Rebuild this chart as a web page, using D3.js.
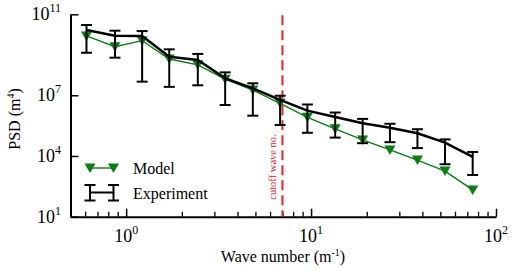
<!DOCTYPE html>
<html>
<head>
<meta charset="utf-8">
<script src="https://cdn.jsdelivr.net/npm/d3@7"></script>
<style>
  body { margin: 0; background: #fff; }
  text { font-family: "Liberation Serif", "Times New Roman", serif; }
</style>
</head>
<body>
<svg id="drawing_region"></svg>
<script>
// wave number (1/m)
const waveNumber = [0.61, 0.87, 1.22, 1.71, 2.44, 3.43, 4.84, 6.8, 9.55, 13.5, 19.0, 26.7, 37.6, 53.0, 74.8];
// experiment PSD and its error bars (m^4)
const expPsd = [1.66e10, 8.7e9, 8.5e9, 8.0e8, 5.5e8, 6.9e7, 2.2e7, 5.9e6, 1.74e6, 8.5e5, 4.1e5, 2.5e5, 1.32e5, 4.6e4, 9.1e3];
const expHigh = [2.95e10, 1.55e10, 1.48e10, 1.86e9, 1.1e9, 1.35e8, 3.9e7, 9.5e6, 3.5e6, 1.4e6, 6.8e5, 3.9e5, 2.1e5, 6.6e4, 1.58e4];
const expLow = [1.26e9, 7.2e8, 4.7e7, 2.6e7, 3.1e7, 3.3e6, 9.8e5, 3.4e5, 1.4e5, 8.1e4, 4.3e4, 4.8e4, 2.45e4, 3.9e3, 1.15e3];
// model PSD (m^4)
const modelPsd = [8.5e9, 2.5e9, 5.0e9, 6.2e8, 3.2e8, 6.2e7, 1.8e7, 4.0e6, 8.1e5, 2.2e5, 6.2e4, 2.0e4, 6.3e3, 1.8e3, 210];
const cutoffWave = 7.0;
// tick values
const yTicks = [1e11, 1e7, 1e4, 1e1];
const yTickExp = ["11", "7", "4", "1"];
const xMajor = [1, 10, 100];
const xMajorExp = ["0", "1", "2"];
const xMinor = [0.6, 0.7, 0.8, 0.9, 2, 3, 4, 5, 6, 7, 8, 9, 20, 30, 40, 50, 60, 70, 80, 90];

const W = 512, H = 270;
const plot = { left: 70.5, right: 496, top: 14.3, bottom: 216.7 };

const svg = d3.select('#drawing_region').attr('width', W).attr('height', H);

const x = d3.scaleLog().domain([0.5, 100]).range([plot.left, plot.right]);
const y = d3.scaleLog().domain([10, 1e11]).range([plot.bottom, plot.top]);

// axes
svg.append('g')
    .attr('transform', `translate(0,${plot.bottom})`)
    .call(d3.axisBottom(x).tickValues(xMinor).tickSize(-5).tickSizeOuter(0).tickFormat(''))
    .call(g => g.selectAll('.tick line').attr('stroke-width', 1.3))
    .call(g => g.select('.domain').remove());
svg.append('g')
    .attr('transform', `translate(0,${plot.bottom})`)
    .call(d3.axisBottom(x).tickValues(xMajor).tickSize(-8).tickSizeOuter(0).tickFormat(''))
    .call(g => g.selectAll('.tick line').attr('stroke-width', 1.5))
    .call(g => g.select('.domain').attr('stroke-width', 2));
svg.append('g')
    .attr('transform', `translate(${plot.left},0)`)
    .call(d3.axisLeft(y).tickValues(yTicks).tickSize(-8).tickSizeOuter(0).tickFormat(''))
    .call(g => g.selectAll('.tick line').attr('stroke-width', 1.5))
    .call(g => g.select('.domain').attr('stroke-width', 2));

// tick labels
const xl = svg.append('g').selectAll('text').data(xMajor).enter().append('text')
    .attr('x', d => x(d)).attr('y', 242)
    .attr('text-anchor', 'middle').attr('font-size', 18);
xl.append('tspan').text('10');
xl.append('tspan').attr('dy', -8).attr('font-size', 12).text((d, i) => xMajorExp[i]);

const yl = svg.append('g').selectAll('text').data(yTicks).enter().append('text')
    .attr('x', 61).attr('y', d => y(d) + 6)
    .attr('text-anchor', 'end').attr('font-size', 18);
yl.append('tspan').text('10');
yl.append('tspan').attr('dy', -8).attr('font-size', 12).text((d, i) => yTickExp[i]);

// axis titles
const xt = svg.append('text').attr('x', 283).attr('y', 262)
    .attr('text-anchor', 'middle').attr('font-size', 16);
xt.append('tspan').text('Wave number (m');
xt.append('tspan').attr('dy', -6).attr('font-size', 10).text('-1');
xt.append('tspan').attr('dy', 6).text(')');

const yt = svg.append('text')
    .attr('transform', 'translate(20,119) rotate(-90)')
    .attr('text-anchor', 'middle').attr('font-size', 16);
yt.append('tspan').text('PSD (m');
yt.append('tspan').attr('dy', -6).attr('font-size', 10).text('4');
yt.append('tspan').attr('dy', 6).text(')');

// cutoff line
svg.append('line')
    .attr('x1', x(cutoffWave)).attr('x2', x(cutoffWave))
    .attr('y1', plot.top + 1).attr('y2', plot.bottom)
    .attr('stroke', '#e8202a').attr('stroke-width', 2)
    .attr('stroke-dasharray', '10,5');
svg.append('text')
    .attr('transform', `translate(${x(cutoffWave) - 6},167) rotate(-90)`)
    .attr('text-anchor', 'middle').attr('font-size', 10.5)
    .attr('fill', '#e8202a').text('cutoff wave no.');

const pts = waveNumber.map((w, i) => ({ w, e: expPsd[i], hi: expHigh[i], lo: expLow[i], m: modelPsd[i] }));

// model line + markers
const green = '#0a7d12';
svg.append('path')
    .datum(pts)
    .attr('fill', 'none').attr('stroke', green).attr('stroke-width', 1.4)
    .attr('d', d3.line().x(d => x(d.w)).y(d => y(d.m)));

const tri = 'M-5.5,-4.5L5.5,-4.5L0,5Z';
svg.append('g').selectAll('path').data(pts).enter().append('path')
    .attr('d', tri).attr('fill', green)
    .attr('transform', d => `translate(${x(d.w)},${y(d.m)})`);

// experiment error bars + line
const eb = svg.append('g').attr('stroke', '#000').attr('stroke-width', 2);
eb.selectAll('.bar').data(pts).enter().append('line')
    .attr('x1', d => x(d.w)).attr('x2', d => x(d.w))
    .attr('y1', d => y(d.hi)).attr('y2', d => y(d.lo));
eb.selectAll('.capt').data(pts).enter().append('line')
    .attr('x1', d => x(d.w) - 5.5).attr('x2', d => x(d.w) + 5.5)
    .attr('y1', d => y(d.hi)).attr('y2', d => y(d.hi));
eb.selectAll('.capb').data(pts).enter().append('line')
    .attr('x1', d => x(d.w) - 5.5).attr('x2', d => x(d.w) + 5.5)
    .attr('y1', d => y(d.lo)).attr('y2', d => y(d.lo));

svg.append('path')
    .datum(pts)
    .attr('fill', 'none').attr('stroke', '#000').attr('stroke-width', 2.5)
    .attr('d', d3.line().x(d => x(d.w)).y(d => y(d.e)));

// legend
const lg = svg.append('g');
lg.append('line').attr('x1', 90).attr('x2', 113.5).attr('y1', 168).attr('y2', 168)
    .attr('stroke', green).attr('stroke-width', 1.4);
lg.selectAll('.lt').data([90, 113.5]).enter().append('path')
    .attr('d', tri).attr('fill', green)
    .attr('transform', d => `translate(${d},168)`);
lg.append('text').attr('x', 133).attr('y', 174).attr('font-size', 16).text('Model');

const le = lg.append('g').attr('stroke', '#000').attr('stroke-width', 2);
le.append('line').attr('x1', 90).attr('x2', 113.5).attr('y1', 192.5).attr('y2', 192.5);
[90, 113.5].forEach(cx => {
    le.append('line').attr('x1', cx).attr('x2', cx).attr('y1', 185).attr('y2', 200.5);
    le.append('line').attr('x1', cx - 5.5).attr('x2', cx + 5.5).attr('y1', 185).attr('y2', 185);
    le.append('line').attr('x1', cx - 5.5).attr('x2', cx + 5.5).attr('y1', 200.5).attr('y2', 200.5);
});
lg.append('text').attr('x', 133).attr('y', 199).attr('font-size', 16).text('Experiment');
</script>
</body>
</html>
